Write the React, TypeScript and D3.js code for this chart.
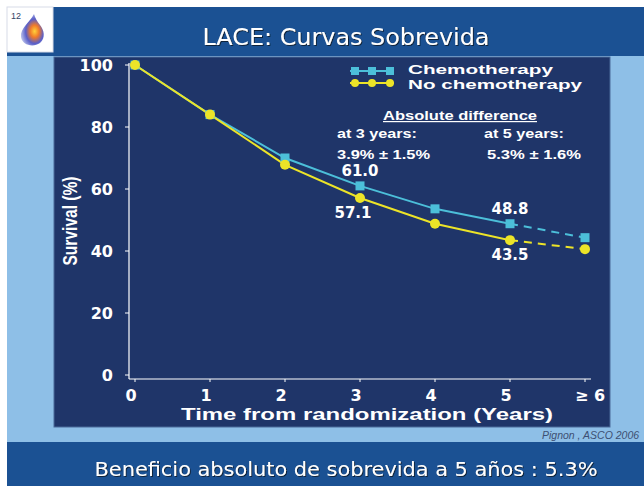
import React from "react";
import * as d3 from "d3";

const years = [0, 1, 2, 3, 4, 5, 6];
const xTickLabels = ["0", "1", "2", "3", "4", "5", "≥ 6"];
const chemo = [100, 84, 70, 61.0, 53.6, 48.8, 44.3];
const noChemo = [100, 84, 67.8, 57.1, 48.8, 43.5, 40.6];
const yTicks = [0, 20, 40, 60, 80, 100];
const valueLabels = [
  { series: "chemo", year: 3, text: "61.0", pos: "above" },
  { series: "noChemo", year: 3, text: "57.1", pos: "below" },
  { series: "chemo", year: 5, text: "48.8", pos: "above" },
  { series: "noChemo", year: 5, text: "43.5", pos: "below" },
];

const W = 644;
const H = 486;
const HEADER = "#1b5193";
const PANEL = "#1f3569";
const LIGHT = "#8ebfe7";
const CYAN = "#4cbfd9";
const YELLOW = "#ece428";
const BOLD = "'Liberation Sans', Arial, sans-serif";
const HEAVY = "'DejaVu Sans', 'Liberation Sans', sans-serif";

export default function App() {
  const x = d3.scaleLinear().domain([0, 6]).range([135, 585]);
  const y = d3.scaleLinear().domain([0, 100]).range([375, 65]);
  const line = d3
    .line<number>()
    .x((_, i) => x(years[i]))
    .y((d) => y(d));

  const solid = (arr: number[]) => line(arr.slice(0, 6)) || "";
  const dashed = (arr: number[]) =>
    d3
      .line<number>()
      .x((_, i) => x(years[i + 5]))
      .y((d) => y(d))(arr.slice(5)) || "";

  const sq = 9;

  return (
    <svg
      width={W}
      height={H}
      style={{ position: "absolute", left: 0, top: 0, display: "block" }}
    >
      <defs>
        <radialGradient id="drop" cx="0.6" cy="0.55" r="0.65">
          <stop offset="0" stopColor="#ffd23a" />
          <stop offset="0.3" stopColor="#f07a2a" />
          <stop offset="0.6" stopColor="#5a5fc8" />
          <stop offset="1" stopColor="#c8d0f0" />
        </radialGradient>
        <filter id="shadow" x="-5%" y="-20%" width="110%" height="140%">
          <feDropShadow dx="1" dy="1" stdDeviation="0.4" floodColor="#0a1a30" floodOpacity="0.9" />
        </filter>
      </defs>
      <rect x={0} y={0} width={W} height={H} fill="#ffffff" />
      {/* light blue background */}
      <rect x={7} y={55} width={W - 7} height={388} fill={LIGHT} />
      {/* header */}
      <rect x={7} y={7} width={W - 7} height={49} fill={HEADER} />
      {/* icon box */}
      <rect x={7} y={7} width={46} height={45} fill="#ffffff" stroke="#d8dce8" strokeWidth={1} />
      <text x={11} y={19} fontFamily={BOLD} fontSize={9} fill="#334466">
        12
      </text>
      <path
        d="M34,14 C30,22 20,28 21,37 C22,45 33,48 40,43 C46,38 44,30 40,25 C37,21 35,18 34,14 Z"
        fill="url(#drop)"
      />
      <text
        x={346}
        y={45}
        textAnchor="middle"
        fontFamily="'DejaVu Sans', sans-serif"
        fontSize={23}
        fill="#ffffff"
        filter="url(#shadow)"
        textLength={287}
        lengthAdjust="spacingAndGlyphs"
      >
        LACE: Curvas Sobrevida
      </text>

      {/* plot panel */}
      <rect x={54} y={57} width={556} height={370} fill={PANEL} stroke="#4a6a9a" strokeWidth={1} />

      {/* axes */}
      <line x1={129} x2={129} y1={63} y2={379} stroke="#ffffff" strokeWidth={1.2} />
      <line x1={129} x2={591} y1={379} y2={379} stroke="#ffffff" strokeWidth={1.2} />
      {yTicks.map((t) => (
        <g key={t}>
          <line x1={125} x2={129} y1={y(t)} y2={y(t)} stroke="#ffffff" strokeWidth={1} />
          <text
            x={113}
            y={y(t) + 6}
            textAnchor="end"
            fontFamily={HEAVY}
            fontWeight="bold"
            fontSize={16}
            fill="#ffffff"
          >
            {t}
          </text>
        </g>
      ))}
      {years.map((yr, i) => (
        <g key={yr}>
          <line x1={x(yr)} x2={x(yr)} y1={379} y2={382} stroke="#ffffff" strokeWidth={1} />
          <text
            x={i === 6 ? x(yr) + 5 : x(yr) - 4}
            y={401}
            textAnchor="middle"
            fontFamily={HEAVY}
            fontWeight="bold"
            fontSize={16}
            fill="#ffffff"
          >
            {xTickLabels[i]}
          </text>
        </g>
      ))}
      <text
        x={367}
        y={420}
        textAnchor="middle"
        fontFamily={BOLD}
        fontWeight="bold"
        fontSize={17}
        fill="#ffffff"
        textLength={372}
        lengthAdjust="spacingAndGlyphs"
      >
        Time from randomization (Years)
      </text>
      <text
        transform="translate(77,221) rotate(-90)"
        textAnchor="middle"
        fontFamily={BOLD}
        fontWeight="bold"
        fontSize={20}
        fill="#ffffff"
        textLength={89}
        lengthAdjust="spacingAndGlyphs"
      >
        Survival (%)
      </text>

      {/* series */}
      <path d={solid(chemo)} fill="none" stroke={CYAN} strokeWidth={2} />
      <path d={dashed(chemo)} fill="none" stroke={CYAN} strokeWidth={2} strokeDasharray="8,6" />
      <path d={solid(noChemo)} fill="none" stroke={YELLOW} strokeWidth={2} />
      <path d={dashed(noChemo)} fill="none" stroke={YELLOW} strokeWidth={2} strokeDasharray="8,6" />
      {chemo.map((v, i) => (
        <rect
          key={"c" + i}
          x={x(years[i]) - sq / 2}
          y={y(v) - sq / 2}
          width={sq}
          height={sq}
          fill={CYAN}
        />
      ))}
      {noChemo.map((v, i) => (
        <circle key={"n" + i} cx={x(years[i])} cy={y(v)} r={5} fill={YELLOW} />
      ))}

      {valueLabels.map((l, i) => {
        const arr = l.series === "chemo" ? chemo : noChemo;
        const v = arr[l.year];
        const cx = l.year === 3 ? (l.pos === "above" ? 360 : 353) : 510;
        const cy = l.pos === "above" ? y(v) - 10 : y(v) + 20;
        return (
          <text
            key={i}
            x={cx}
            y={cy}
            textAnchor="middle"
            fontFamily={HEAVY}
            fontWeight="bold"
            fontSize={15}
            fill="#ffffff"
            textLength={37}
            lengthAdjust="spacingAndGlyphs"
          >
            {l.text}
          </text>
        );
      })}

      {/* legend */}
      <line x1={350} x2={394} y1={71} y2={71} stroke={CYAN} strokeWidth={2} />
      {[355, 372, 390].map((lx) => (
        <rect key={"lc" + lx} x={lx - 4} y={67} width={8} height={8} fill={CYAN} />
      ))}
      <line x1={350} x2={394} y1={83} y2={83} stroke={YELLOW} strokeWidth={2} />
      {[355, 372, 390].map((lx) => (
        <circle key={"ln" + lx} cx={lx} cy={83} r={4} fill={YELLOW} />
      ))}
      <text x={408} y={73.5} fontFamily={BOLD} fontWeight="bold" fontSize={13.5} fill="#ffffff" textLength={145} lengthAdjust="spacingAndGlyphs">
        Chemotherapy
      </text>
      <text x={408} y={89} fontFamily={BOLD} fontWeight="bold" fontSize={13.5} fill="#ffffff" textLength={174} lengthAdjust="spacingAndGlyphs">
        No chemotherapy
      </text>

      <text x={460} y={120} textAnchor="middle" fontFamily={BOLD} fontWeight="bold" fontSize={12} fill="#ffffff" textDecoration="underline" textLength={154} lengthAdjust="spacingAndGlyphs">
        Absolute difference
      </text>
      <text x={337} y={138} fontFamily={BOLD} fontWeight="bold" fontSize={12} fill="#ffffff" textLength={80} lengthAdjust="spacingAndGlyphs">
        at 3 years:
      </text>
      <text x={484} y={138} fontFamily={BOLD} fontWeight="bold" fontSize={12} fill="#ffffff" textLength={80} lengthAdjust="spacingAndGlyphs">
        at 5 years:
      </text>
      <text x={337} y={159} fontFamily={BOLD} fontWeight="bold" fontSize={12} fill="#ffffff" textLength={93} lengthAdjust="spacingAndGlyphs">
        3.9% ± 1.5%
      </text>
      <text x={487} y={159} fontFamily={BOLD} fontWeight="bold" fontSize={12} fill="#ffffff" textLength={94} lengthAdjust="spacingAndGlyphs">
        5.3% ± 1.6%
      </text>

      {/* source */}
      <text x={542} y={439} fontFamily={BOLD} fontStyle="italic" fontSize={10.5} fill="#3d4f72">
        Pignon , ASCO 2006
      </text>

      {/* bottom band */}
      <rect x={7} y={442} width={W - 7} height={44} fill={HEADER} />
      <text
        x={346}
        y={476}
        textAnchor="middle"
        fontFamily="'DejaVu Sans', sans-serif"
        fontSize={20}
        fill="#ffffff"
        filter="url(#shadow)"
        textLength={503}
        lengthAdjust="spacingAndGlyphs"
      >
        Beneficio absoluto de sobrevida a 5 años : 5.3%
      </text>
    </svg>
  );
}
